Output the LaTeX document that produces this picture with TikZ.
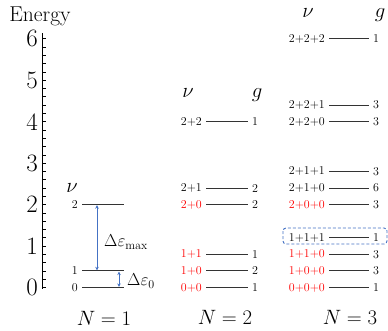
\documentclass[tikz,border=0pt]{standalone}
\usetikzlibrary{arrows.meta}
\definecolor{arrblue}{RGB}{68,114,196}
\definecolor{lvlred}{RGB}{255,0,0}
\newcommand\fs[1]{\fontsize{#1}{#1}\selectfont}
\newcommand\Ey[1]{287.5-41.45*#1}
% name, x1, x2, energy, label, colour
\newcommand\mylevel[6]{%
  \coordinate (#1a) at (#2,{\Ey{#4}});
  \coordinate (#1b) at (#3,{\Ey{#4}});
  \draw[lvl] (#1a) -- (#1b);
  \node[lvllab,text=#6,anchor=east] (#1v) at ([xshift=-4pt]#1a) {#5};
}
\newcommand\mydeg[2]{%
  \node[lvllab,anchor=west] (#1g) at ([xshift=4pt]#1b) {#2};
}
\begin{document}
\begin{tikzpicture}[x=1pt,y=-1pt,
  lvl/.style={draw=black!80,line width=0.9pt},
  lvllab/.style={inner sep=0pt,font=\fs{12}},
  ticklab/.style={inner sep=0pt,font=\fs{25},anchor=east},
  head/.style={inner sep=0pt,font=\fs{22},anchor=base},
  nlab/.style={inner sep=0pt,font=\fs{22},anchor=base},
  darr/.style={color=arrblue,line width=1pt,{Stealth[length=3.5pt,width=3.5pt]}-{Stealth[length=3.5pt,width=3.5pt]}},
  dlab/.style={inner sep=0pt,font=\fs{17},anchor=west}]
\useasboundingbox (0,0) rectangle (388,330);
% axis
\node[inner sep=0pt,font=\fs{21.5},anchor=base] (energy) at (40,21) {Energy};
\coordinate (axtop) at (42,33);
\coordinate (axbot) at (42,{\Ey{0}+1});
\draw[line width=0.9pt] (axtop) -- (axbot);
\foreach \i in {0,...,30} \draw[line width=0.7pt] (42,{\Ey{\i/5}}) -- ++(3.5,0);
\foreach \i in {0,...,6} \node[ticklab] (t\i) at (38,{\Ey{\i}}) {\i};
% N = 1
\node[head] (nu1) at (72,192) {$\nu$};
\mylevel{oa}{82}{124}{0}{0}{black}
\mylevel{ob}{82}{124}{0.4}{1}{black}
\mylevel{oc}{82}{124}{2}{2}{black}
\coordinate (ar1t) at (97,{\Ey{2}});
\coordinate (ar1b) at (97,{\Ey{0.4}});
\coordinate (ar2t) at (119,{\Ey{0.4}});
\coordinate (ar2b) at (119,{\Ey{0}});
\draw[darr,shorten <=0.6pt,shorten >=0.6pt] (ar1t) -- (ar1b);
\draw[darr,shorten <=0.6pt,shorten >=0.6pt] (ar2t) -- (ar2b);
\node[dlab] (dmax) at (104,242) {$\Delta\varepsilon_{\mathrm{max}}$};
\node[dlab] (dzero) at (127,281) {$\Delta\varepsilon_{0}$};
\node[nlab] (N1) at (104,325) {$N=1$};
% N = 2
\node[head] (nu2) at (188,97) {$\nu$};
\node[head] (g2) at (257,97) {$g$};
\mylevel{ta}{206}{248}{0}{0+0}{lvlred}\mydeg{ta}{1}
\mylevel{tb}{206}{248}{0.4}{1+0}{lvlred}\mydeg{tb}{2}
\mylevel{tc}{206}{248}{0.8}{1+1}{lvlred}\mydeg{tc}{1}
\mylevel{td}{206}{248}{2}{2+0}{lvlred}\mydeg{td}{2}
\mylevel{te}{206}{248}{2.4}{2+1}{black}\mydeg{te}{2}
\mylevel{tf}{206}{248}{4}{2+2}{black}\mydeg{tf}{1}
\node[nlab] (N2) at (225,324) {$N=2$};
% N = 3
\node[head] (nu3) at (308,17) {$\nu$};
\node[head] (g3) at (380,17) {$g$};
\mylevel{ha}{329}{369}{0}{0+0+0}{lvlred}\mydeg{ha}{1}
\mylevel{hb}{329}{369}{0.4}{1+0+0}{lvlred}\mydeg{hb}{3}
\mylevel{hc}{329}{369}{0.8}{1+1+0}{lvlred}\mydeg{hc}{3}
\mylevel{hd}{329}{369}{1.2}{1+1+1}{black}\mydeg{hd}{1}
\mylevel{he}{329}{369}{2}{2+0+0}{lvlred}\mydeg{he}{3}
\mylevel{hf}{329}{369}{2.4}{2+1+0}{black}\mydeg{hf}{6}
\mylevel{hg}{329}{369}{2.8}{2+1+1}{black}\mydeg{hg}{3}
\mylevel{hh}{329}{369}{4}{2+2+0}{black}\mydeg{hh}{3}
\mylevel{hi}{329}{369}{4.4}{2+2+1}{black}\mydeg{hi}{3}
\mylevel{hj}{329}{369}{6}{2+2+2}{black}\mydeg{hj}{1}
\draw[arrblue,line width=0.9pt,dash pattern=on 3pt off 2pt,rounded corners=3pt] (283,228) rectangle (387,244);
\node[nlab] (N3) at (350,324) {$N=3$};
\end{tikzpicture}
\end{document}
